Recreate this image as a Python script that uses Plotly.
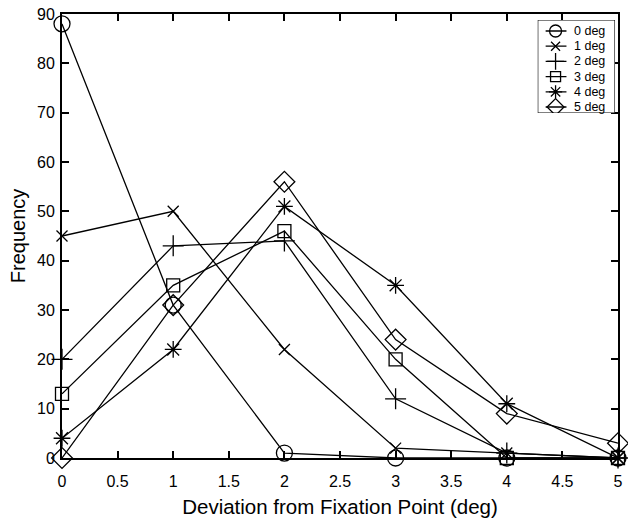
import plotly.graph_objects as go

x_vals = [0, 1, 2, 3, 4, 5]
names = ["0 deg", "1 deg", "2 deg", "3 deg", "4 deg", "5 deg"]
deg0 = [88, 31, 1, 0, 0, 0]
deg1 = [45, 50, 22, 2, 1, 0]
deg2 = [20, 43, 44, 12, 1, 0]
deg3 = [13, 35, 46, 20, 0, 0]
deg4 = [4, 22, 51, 35, 11, 0]
deg5 = [0, 31, 56, 24, 9, 3]
series = [deg0, deg1, deg2, deg3, deg4, deg5]
symbols = ["circle-open", "x-thin-open", "cross-thin-open", "square-open", "asterisk-open", "diamond-open"]
sizes = [16, 11, 15, 13, 14, 16]
leg_sizes = [12, 9, 12, 10, 11, 13]

FONT = "Liberation Sans, Arial, Helvetica"

fig = go.Figure()
for n, s, sym, sz in zip(names, series, symbols, sizes):
    fig.add_trace(go.Scatter(
        x=x_vals, y=s, name=n, mode="lines+markers", showlegend=False,
        line=dict(color="black", width=1.3),
        marker=dict(symbol=sym, size=sz, color="black", line=dict(color="black", width=1.3)),
        cliponaxis=False,
    ))

# custom legend (drawn on its own hidden axes, in pixel-like units)
W, H = 628, 523
L, R, T, B = 62, 5, 14, 65
pw, ph = W - L - R, H - T - B
box_l, box_r, box_t, box_b = 542, 620, 20, 113
row_y0, row_dy = 31, 15.2
for i, (n, sym, lsz) in enumerate(zip(names, symbols, leg_sizes)):
    yy = row_y0 + i * row_dy
    fig.add_trace(go.Scatter(
        x=[550, 560, 571], y=[yy, yy, yy], mode="lines", xaxis="x2", yaxis="y2",
        line=dict(color="black", width=1.3), showlegend=False, hoverinfo="skip"))
    fig.add_trace(go.Scatter(
        x=[560], y=[yy], mode="markers", xaxis="x2", yaxis="y2", showlegend=False, hoverinfo="skip",
        marker=dict(symbol=sym, size=lsz, color="black", line=dict(color="black", width=1.3))))
    fig.add_annotation(x=577, y=yy, xref="x2", yref="y2", text=n, showarrow=False,
                       xanchor="left", yanchor="middle", font=dict(family=FONT, size=12.5, color="black"))

axis_common = dict(
    showline=True, linecolor="black", linewidth=2, mirror="ticks",
    ticks="inside", ticklen=7, tickwidth=1.5, tickcolor="black",
    showgrid=False, zeroline=False,
    tickfont=dict(family=FONT, size=16, color="black"),
)

fig.update_layout(
    width=W, height=H,
    margin=dict(l=L, r=R, t=T, b=B),
    paper_bgcolor="white", plot_bgcolor="rgba(0,0,0,0)",
    font=dict(family=FONT, color="black"),
    showlegend=False,
    xaxis=dict(range=[0, 5], dtick=0.5, ticklabelstandoff=8,
               title=dict(text="Deviation from Fixation Point (deg)", font=dict(size=20.5), standoff=10),
               **axis_common),
    yaxis=dict(range=[0, 90], dtick=10, ticklabelstandoff=2,
               title=dict(text="Frequency", font=dict(size=20), standoff=6),
               **axis_common),
    xaxis2=dict(domain=[(box_l - L) / pw, (box_r - L) / pw], range=[box_l, box_r],
                anchor="y2", visible=False, fixedrange=True),
    yaxis2=dict(domain=[(H - B - box_b) / ph, (H - B - box_t) / ph], range=[box_b, box_t],
                anchor="x2", visible=False, fixedrange=True),
    shapes=[dict(type="rect", xref="x2", yref="y2", x0=box_l, x1=box_r, y0=box_t, y1=box_b,
                 line=dict(color="black", width=1.2), fillcolor="white", layer="below")],
)

fig.write_html("out.html")
